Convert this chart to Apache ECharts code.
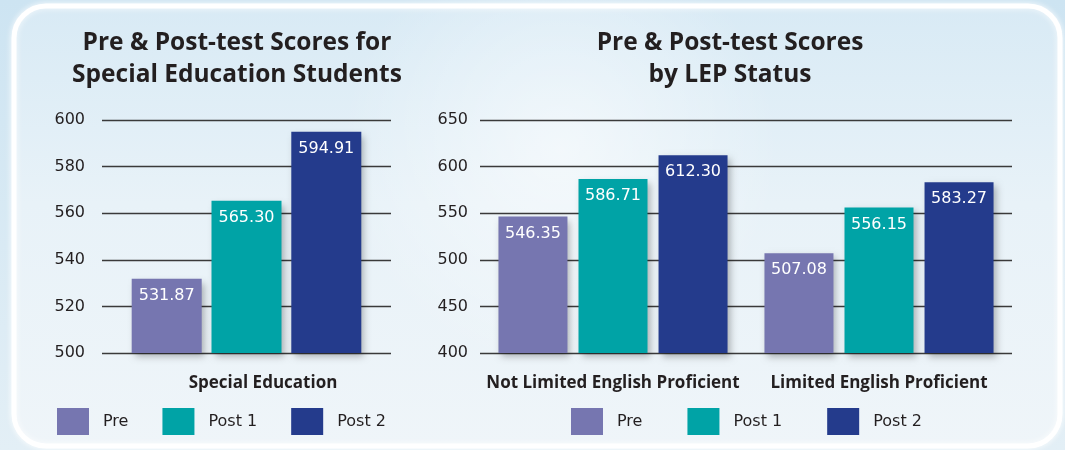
<!DOCTYPE html>
<html><head><meta charset="utf-8">
<script src="https://cdn.jsdelivr.net/npm/echarts@6/dist/echarts.min.js"></script>
<style>html,body{margin:0;padding:0;background:#d3e7f3}#c{width:1065px;height:450px}</style>
</head><body><div id="c"></div>
<script>
const seriesNames = ['Pre', 'Post 1', 'Post 2'];
const colors = ['#7676b0', '#00a3a6', '#243b8c'];
const specCategories = ['Special Education'];
const specPre = [531.87];
const specPost1 = [565.30];
const specPost2 = [594.91];
const lepCategories = ['Not Limited English Proficient', 'Limited English Proficient'];
const lepPre = [546.35, 507.08];
const lepPost1 = [586.71, 556.15];
const lepPost2 = [612.30, 583.27];
const specTitle = 'Pre & Post-test Scores for\nSpecial Education Students';
const lepTitle = 'Pre & Post-test Scores\nby LEP Status';

const FONT = '"DejaVu Sans", sans-serif';
const TITLE_FONT = '"Open Sans", sans-serif';
const CAT_FONT = '"Open Sans", sans-serif';
const TXT = '#231f20';
const chart = echarts.init(document.getElementById('c'));

function barSeries(name, data, idx, axisIdx, width, gap) {
  return {
    type: 'bar', name: name, data: data,
    xAxisIndex: axisIdx, yAxisIndex: axisIdx,
    barWidth: width, barGap: gap,
    itemStyle: { color: colors[idx], shadowColor: 'rgba(0,0,0,0.28)', shadowBlur: 7, shadowOffsetX: 3, shadowOffsetY: 4 },
    label: { show: true, position: 'insideTop', distance: 9, color: '#fff', fontSize: 16, fontFamily: FONT,
      formatter: p => p.value.toFixed(2) },
    emphasis: { disabled: true }
  };
}

const yAxisCommon = {
  type: 'value',
  axisLine: { show: false }, axisTick: { show: false },
  splitLine: { lineStyle: { color: '#3a3a3a', width: 1.3 } },
  axisLabel: { color: TXT, fontSize: 16, fontFamily: FONT }
};

const legendCommon = {
  data: seriesNames, top: 408, padding: 0, itemWidth: 32, itemHeight: 27,
  icon: 'rect', selectedMode: false,
  textStyle: { color: TXT, fontSize: 16, fontFamily: FONT, padding: [0, 0, 0, 9] }
};

const catLabel = { color: TXT, fontSize: 17, fontWeight: 'bold', fontFamily: CAT_FONT, margin: 22, interval: 0, hideOverlap: false };

chart.setOption({
  animation: false,
  backgroundColor: '#d3e7f3',
  graphic: [
    { type: 'rect', z: -10, silent: true, shape: { x: 0, y: 0, width: 1065, height: 450 },
      style: { fill: { type: 'linear', x: 0, y: 0, x2: 0, y2: 1, colorStops: [
        { offset: 0, color: '#cde4f2' }, { offset: 1, color: '#e3eff6' }] } } },
    { type: 'rect', z: -9, silent: true, shape: { x: 14, y: 6, width: 1046, height: 440, r: 32 },
      style: { fill: { type: 'linear', x: 0, y: 0, x2: 0, y2: 1, colorStops: [
        { offset: 0, color: '#d8eaf5' }, { offset: 0.45, color: '#e8f2f8' }, { offset: 1, color: '#eff5f9' }] },
        stroke: '#ffffff', lineWidth: 5, shadowColor: 'rgba(255,255,255,0.8)', shadowBlur: 6 } },
    { type: 'circle', z: -8, silent: true, shape: { cx: 560, cy: 150, r: 220 },
      style: { fill: { type: 'radial', x: 0.5, y: 0.5, r: 0.5, colorStops: [
        { offset: 0, color: 'rgba(255,255,255,0.55)' }, { offset: 1, color: 'rgba(255,255,255,0)' }] } } }
  ],
  title: [
    { text: specTitle, left: 232, top: 22, textAlign: 'center',
      textStyle: { fontFamily: TITLE_FONT, fontWeight: 'bold', fontSize: 24.5, lineHeight: 32, color: TXT } },
    { text: lepTitle, left: 725, top: 22, textAlign: 'center',
      textStyle: { fontFamily: TITLE_FONT, fontWeight: 'bold', fontSize: 24.5, lineHeight: 32, color: TXT } }
  ],
  legend: [
    Object.assign({}, legendCommon, { left: 57, itemGap: 34 }),
    Object.assign({}, legendCommon, { left: 571, itemGap: 45 })
  ],
  grid: [
    { left: 102, right: 674, top: 120, height: 233 },
    { left: 480, right: 53, top: 120, height: 233 }
  ],
  xAxis: [
    { gridIndex: 0, type: 'category', data: specCategories,
      axisLine: { show: false }, axisTick: { show: false },
      axisLabel: Object.assign({}, catLabel, { padding: [0, 0, 0, 33] }) },
    { gridIndex: 1, type: 'category', data: lepCategories,
      axisLine: { show: false }, axisTick: { show: false },
      axisLabel: Object.assign({}, catLabel) }
  ],
  yAxis: [
    Object.assign({}, yAxisCommon, { gridIndex: 0, min: 500, max: 600, interval: 20,
      axisLabel: Object.assign({}, yAxisCommon.axisLabel, { margin: 17 }) }),
    Object.assign({}, yAxisCommon, { gridIndex: 1, min: 400, max: 650, interval: 50,
      axisLabel: Object.assign({}, yAxisCommon.axisLabel, { margin: 12 }) })
  ],
  series: [
    barSeries(seriesNames[0], specPre, 0, 0, 70, '14%'),
    barSeries(seriesNames[1], specPost1, 1, 0, 70, '14%'),
    barSeries(seriesNames[2], specPost2, 2, 0, 70, '14%'),
    barSeries(seriesNames[0], lepPre, 0, 1, 69, '16%'),
    barSeries(seriesNames[1], lepPost1, 1, 1, 69, '16%'),
    barSeries(seriesNames[2], lepPost2, 2, 1, 69, '16%')
  ]
});
</script></body></html>
